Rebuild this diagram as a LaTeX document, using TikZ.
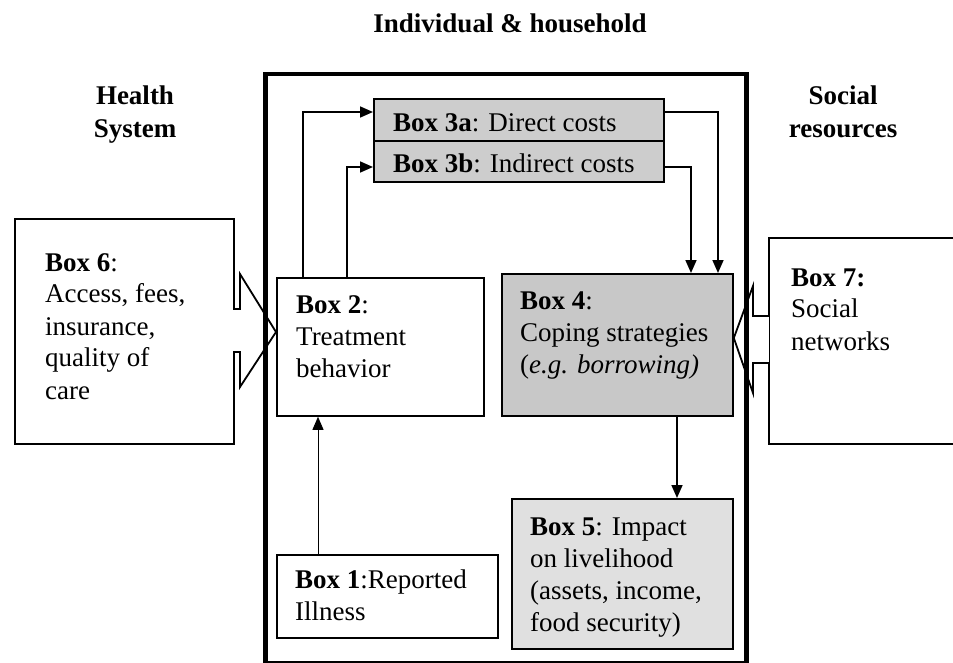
\documentclass[tikz,border=0pt]{standalone}
\usepackage{fontspec}
\setmainfont{Liberation Serif}
\usetikzlibrary{arrows.meta}
\definecolor{grayA}{RGB}{205,205,205}
\definecolor{grayB}{RGB}{200,200,200}
\definecolor{grayC}{RGB}{224,224,224}
\newcommand\tl[1]{\begin{tabular}[t]{@{}l@{}}#1\end{tabular}}
\begin{document}
\begin{tikzpicture}[x=1pt,y=-1pt,
  box/.style={draw, line width=1.8pt, inner sep=0pt, anchor=north west},
  txt/.style={inner sep=0pt, anchor=base west, font=\fontsize{27}{32}\selectfont},
  head/.style={inner sep=0pt, anchor=base, align=center, font=\fontsize{27}{33}\selectfont\bfseries},
  conn/.style={line width=1.7pt, -{Triangle[length=13pt,width=11pt]}},
  thinconn/.style={line width=0.9pt, -{Triangle[length=13pt,width=11pt]}},
  blockarrow/.style={line width=1.8pt, line join=miter}]
\useasboundingbox (0,0) rectangle (953,663);
\fill[white] (0,0) rectangle (953,663);

% titles
\node[head] (title) at (510,33) {Individual \& household};
\node[head] (health) at (135,105) {\tl{\hfill Health\hfill\null\\ \hfill System\hfill\null}};
\node[head] (social) at (843,105) {\tl{\hfill Social\hfill\null\\ resources}};

% outer box
\node[draw, line width=4.5pt, inner sep=0pt, anchor=north west, minimum width=481pt, minimum height=589pt] (outer) at (263,72) {};

% boxes
\node[box, fill=white, minimum width=219pt, minimum height=225pt] (b6) at (14,218) {};
\node[box, fill=white, minimum width=187pt, minimum height=206pt] (b7) at (768,237) {};
\node[box, fill=white, minimum width=207pt, minimum height=138pt] (b2) at (276,277) {};
\node[box, fill=grayA, minimum width=290pt, minimum height=42pt] (b3a) at (373,98) {};
\node[box, fill=grayA, minimum width=290pt, minimum height=41pt] (b3b) at (373,140) {};
\node[box, fill=grayB, minimum width=231pt, minimum height=142pt] (b4) at (501,273) {};
\node[box, fill=grayC, minimum width=221pt, minimum height=150pt] (b5) at (511,498) {};
\node[box, fill=white, minimum width=221pt, minimum height=83pt] (b1) at (276,554) {};

% texts
\node[txt] (t6) at (45,271) {\tl{\textbf{Box 6}:\\Access, fees,\\insurance,\\quality of\\care}};
\node[txt] (t7) at (791,286) {\tl{\textbf{Box 7:}\\Social\\networks}};
\node[txt] (t2) at (296,313) {\tl{\textbf{Box 2}:\\Treatment\\behavior}};
\node[txt] (t3a) at (393,132) {\textbf{Box 3a}: Direct costs};
\node[txt] (t3b) at (393,173) {\textbf{Box 3b}: Indirect costs};
\node[txt] (t4) at (520,309) {\tl{\textbf{Box 4}:\\Coping strategies\\(\textit{e.g. borrowing)}}};
\node[txt] (t5) at (530,535) {\tl{\textbf{Box 5}: Impact\\on livelihood\\(assets, income,\\food security)}};
\node[txt] (t1) at (295,588) {\tl{\textbf{Box 1}:Reported\\Illness}};

% block arrow Box 6 -> Box 2
\fill[white] (232,310) rectangle (241,351);
\draw[blockarrow] (b6.east |- 0,309) -- (240,309) -- (240,274) -- (b2.west |- 0,332) -- (240,387) -- (240,352) -- (b6.east |- 0,352);
% block arrow Box 7 -> Box 4
\fill[white] (752,317) rectangle (769,362);
\draw[blockarrow] (b7.west |- 0,316) -- (753,316) -- (753,286) -- (b4.east |- 0,338) -- (753,393) -- (753,363) -- (b7.west |- 0,363);

% connectors
\draw[conn] (b2.north -| 303,0) |- (b3a.west |- 0,112);
\draw[conn] (b2.north -| 347,0) |- (b3b.west |- 0,167);
\draw[conn] (b3a.east |- 0,112) -| (b4.north -| 718,0);
\draw[conn] (b3b.east |- 0,167) -| (b4.north -| 691,0);
\draw[conn] (b4.south -| 677,0) -- (b5.north -| 677,0);
\draw[thinconn] (b1.north -| 318,0) -- (b2.south -| 318,0);
\end{tikzpicture}
\end{document}
